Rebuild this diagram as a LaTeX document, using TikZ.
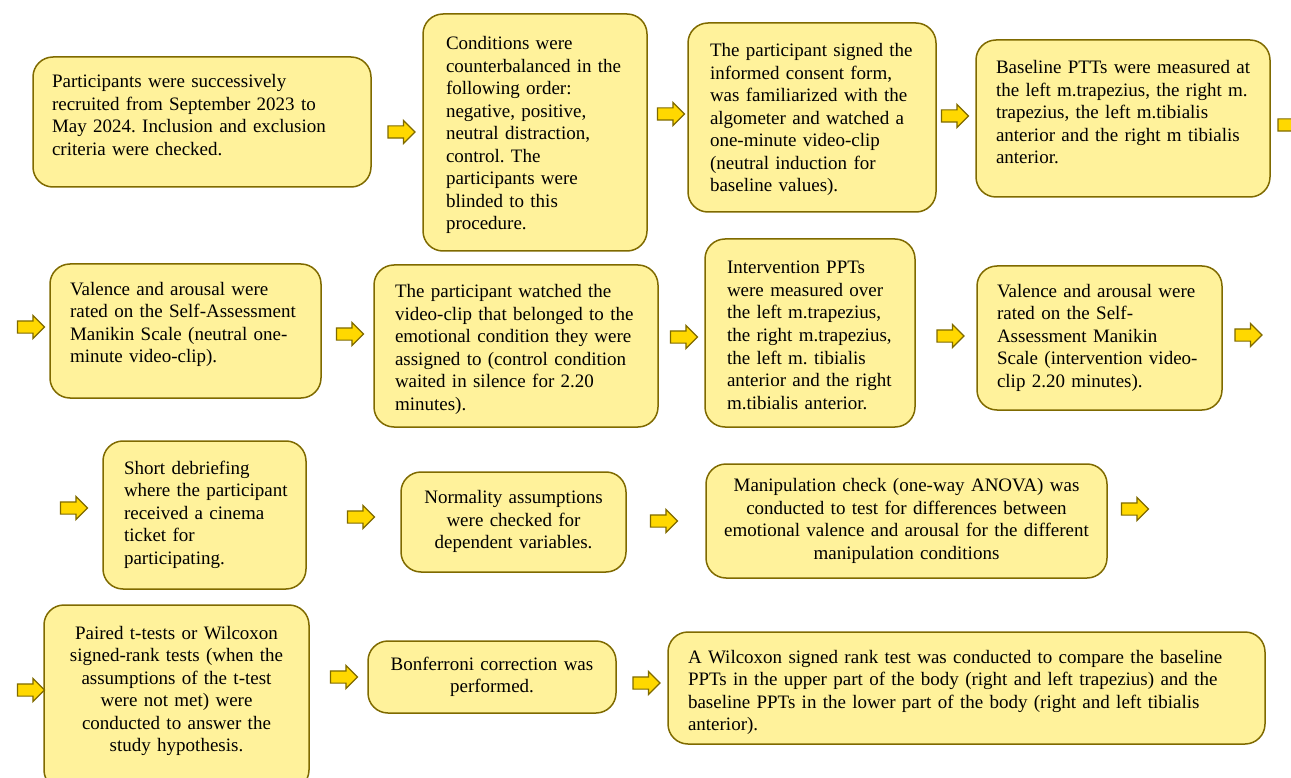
\documentclass[tikz,border=0pt]{standalone}
\usepackage{fontspec}
\setmainfont{Liberation Serif}
\usetikzlibrary{shapes.arrows}
\definecolor{boxfill}{HTML}{FFF29B}
\definecolor{boxline}{HTML}{7F6A00}
\definecolor{arrowfill}{HTML}{FFD800}
\newcommand{\nextstep}{
node[draw=boxline, fill=arrowfill, line width=1.2pt, single arrow, single arrow head extend=5.5pt, single arrow head indent=0pt, minimum height=27pt, inner xsep=0pt, inner ysep=5.5pt]
}
\tikzset{stepbox/.style={draw=boxline, fill=boxfill, line width=1.5pt, rounded corners=20pt, inner ysep=0pt, text height=13pt, font=\fontsize{19}{22.5}\selectfont\frenchspacing}}

\begin{document}
\begin{tikzpicture}[x=1pt, y=-1pt]
\clip (0,0) rectangle (1291,778);
\path (202,122) node[stepbox, align=left, minimum height=130, inner xsep=19, text width=300, text depth=81pt] (recruit) {Participants were successively\\ recruited from September 2023 to\\ May 2024. Inclusion and exclusion\\ criteria were checked.};
\path (535,132.5) node[stepbox, align=left, minimum height=237, inner xsep=23, text width=178, text depth=178pt] (order) {Conditions were\\ \mbox{counterbalanced in the}\\ following order:\\ negative, positive,\\ neutral distraction,\\ control. The\\ participants were\\ blinded to this\\ procedure.};
\path (812,117.5) node[stepbox, align=left, minimum height=189, inner xsep=22, text width=204, text depth=134pt] (consent) {\mbox{The participant signed the}\\ informed consent form,\\ was familiarized with the\\ algometer and watched a\\ one-minute video-clip\\ (neutral induction for\\ baseline values).};
\path (1123,118.5) node[stepbox, align=left, minimum height=157, inner xsep=20, text width=254, text depth=102pt] (baseline) {\mbox{Baseline PTTs were measured at}\\ the left m.trapezius, the right m.\\ trapezius, the left m.tibialis\\ anterior and the right m tibialis\\ anterior.};

\path (185.5,331) node[stepbox, align=left, minimum height=134, inner xsep=20, text width=231, text depth=85pt] (samneutral) {Valence and arousal were\\ \mbox{rated on the Self-Assessment}\\ Manikin Scale (neutral one-\\ minute video-clip).};
\path (516,346) node[stepbox, align=left, minimum height=162, inner xsep=21, text width=242, text depth=109pt] (clip) {The participant watched the\\ \mbox{video-clip that belonged to the}\\ emotional condition they were\\ assigned to (control condition\\ waited in silence for 2.20\\ minutes).};
\path (810,333) node[stepbox, align=left, minimum height=188, inner xsep=22, text width=166, text depth=131pt] (intervention) {Intervention PPTs\\ were measured over\\ the left m.trapezius,\\ the right m.trapezius,\\ the left m. tibialis\\ \mbox{anterior and the right}\\ m.tibialis anterior.};
\path (1099.5,338) node[stepbox, align=left, minimum height=144, inner xsep=20, text width=205] (samint) {Valence and arousal were\\ rated on the Self-\\ Assessment Manikin\\ \mbox{Scale (intervention video-}\\ clip 2.20 minutes).};

\path (204.5,515) node[stepbox, align=left, minimum height=148, inner xsep=21, text width=161] (debrief) {Short debriefing\\ \mbox{where the participant}\\ received a cinema\\ ticket for\\ participating.};
\path (513.5,522) node[stepbox, align=center, minimum height=100, inner xsep=15, text width=195] (normality) {Normality assumptions\\ were checked for\\ dependent variables.};
\path (906.5,521) node[stepbox, align=center, minimum height=114, inner xsep=15, text width=371] (manipulation) {Manipulation check (one-way ANOVA) was\\ conducted to test for differences between\\ emotional valence and arousal for the different\\ manipulation conditions};

\path (176.5,697.5) node[stepbox, align=center, minimum height=185, inner xsep=15, text width=235, text depth=130pt] (tests) {Paired t-tests or Wilcoxon\\ signed-rank tests (when the\\ assumptions of the t-test\\ were not met) were\\ conducted to answer the\\ study hypothesis.};
\path (492,677) node[stepbox, align=center, minimum height=72, inner xsep=15, text width=218] (bonferroni) {Bonferroni correction was\\ performed.};
\path (966.5,688) node[stepbox, align=left, minimum height=112, inner xsep=20, text width=557, text depth=63pt] (wilcoxon) {A Wilcoxon signed rank test was conducted to compare the baseline\\ PPTs in the upper part of the body (right and left trapezius) and the\\ baseline PPTs in the lower part of the body (right and left tibialis\\ anterior).};

\path (398.5,132) \nextstep (a1) {};
\path (668,114) \nextstep (a2) {};
\path (952,116) \nextstep (a3) {};
\path (1288.5,125) \nextstep (a4) {};
\path (28,327) \nextstep (a5) {};
\path (347,334) \nextstep (a6) {};
\path (681,337) \nextstep (a7) {};
\path (947.5,336) \nextstep (a8) {};
\path (1245.5,335) \nextstep (a9) {};
\path (71,508) \nextstep (a10) {};
\path (358,517) \nextstep (a11) {};
\path (661,521) \nextstep (a12) {};
\path (1132,509) \nextstep (a13) {};
\path (28,690) \nextstep (a14) {};
\path (341,677) \nextstep (a15) {};
\path (643.5,683) \nextstep (a16) {};
\end{tikzpicture}
\end{document}
